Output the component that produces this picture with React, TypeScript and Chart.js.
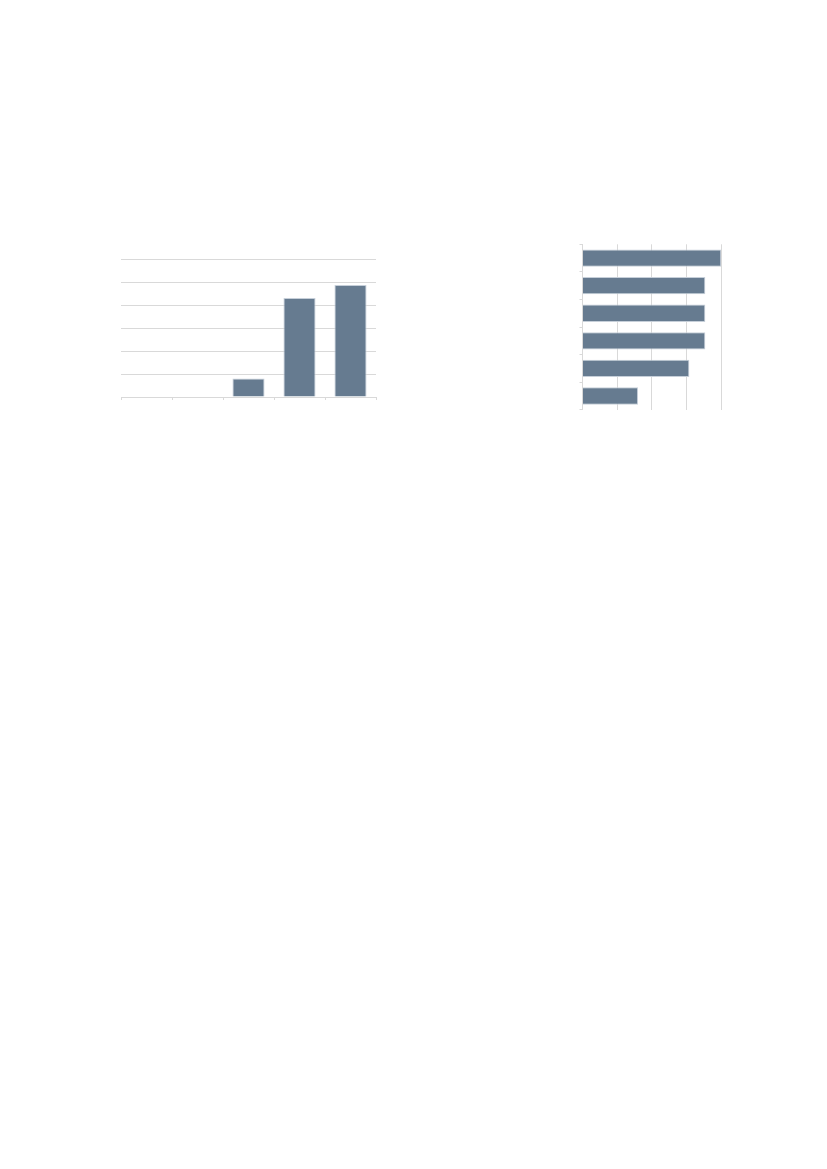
import React, { useEffect, useRef } from "react";
import { Chart, registerables } from "chart.js";

Chart.register(...registerables);

const leftCategories = ["1", "2", "3", "4", "5"];
const leftValues = [0, 0, 0.8, 4.3, 4.87];
const leftTicks = { min: 0, max: 6, step: 1 };

const rightCategories = ["1", "2", "3", "4", "5", "6"];
const rightValues = [4.0, 3.54, 3.54, 3.54, 3.08, 1.6];
const rightTicks = { min: 0, max: 4, step: 1 };

const BAR = "#667b90";
const BAR_BORDER = "#c6cfd9";
const GRID = "#d9d9d9";

function LeftChart() {
  const ref = useRef<HTMLCanvasElement | null>(null);
  useEffect(() => {
    if (!ref.current) return;
    const chart = new Chart(ref.current, {
      type: "bar",
      data: {
        labels: leftCategories,
        datasets: [
          {
            data: leftValues,
            backgroundColor: BAR,
            borderColor: BAR_BORDER,
            borderWidth: 1,
            barPercentage: 0.63,
            categoryPercentage: 1,
          },
        ],
      },
      options: {
        responsive: false,
        animation: false,
        layout: { padding: { left: 21, right: 24, top: 19, bottom: 20 } },
        plugins: { legend: { display: false }, tooltip: { enabled: false } },
        scales: {
          x: {
            offset: true,
            grid: {
              offset: true,
              drawOnChartArea: false,
              drawTicks: true,
              tickLength: 3,
              color: GRID,
            },
            border: { display: true, color: GRID },
            ticks: { display: false },
          },
          y: {
            min: leftTicks.min,
            max: leftTicks.max,
            ticks: { display: false, stepSize: leftTicks.step },
            grid: { color: GRID, drawTicks: false },
            border: { display: false },
          },
        },
      },
    });
    return () => chart.destroy();
  }, []);
  return (
    <canvas
      ref={ref}
      width={300}
      height={180}
      style={{ position: "absolute", left: 100, top: 240, width: 300, height: 180 }}
    />
  );
}

function RightChart() {
  const ref = useRef<HTMLCanvasElement | null>(null);
  useEffect(() => {
    if (!ref.current) return;
    const chart = new Chart(ref.current, {
      type: "bar",
      data: {
        labels: rightCategories,
        datasets: [
          {
            data: rightValues,
            backgroundColor: BAR,
            borderColor: BAR_BORDER,
            borderWidth: 1,
            barPercentage: 0.63,
            categoryPercentage: 1,
          },
        ],
      },
      options: {
        indexAxis: "y",
        responsive: false,
        animation: false,
        layout: { padding: { left: 19.5, right: 18.7, top: 14.3, bottom: 10.2 } },
        plugins: { legend: { display: false }, tooltip: { enabled: false } },
        scales: {
          x: {
            min: rightTicks.min,
            max: rightTicks.max,
            ticks: { display: false, stepSize: rightTicks.step },
            grid: { color: GRID, drawTicks: false },
            border: { display: false },
          },
          y: {
            offset: true,
            grid: {
              offset: true,
              drawOnChartArea: false,
              drawTicks: true,
              tickLength: 3,
              color: GRID,
            },
            border: { display: true, color: GRID },
            ticks: { display: false },
          },
        },
      },
    });
    return () => chart.destroy();
  }, []);
  return (
    <canvas
      ref={ref}
      width={180}
      height={190}
      style={{ position: "absolute", left: 560, top: 230, width: 180, height: 190 }}
    />
  );
}

export default function App() {
  return (
    <div style={{ position: "absolute", left: 0, top: 0, width: 827, height: 1169, background: "#fff" }}>
      <LeftChart />
      <RightChart />
    </div>
  );
}
